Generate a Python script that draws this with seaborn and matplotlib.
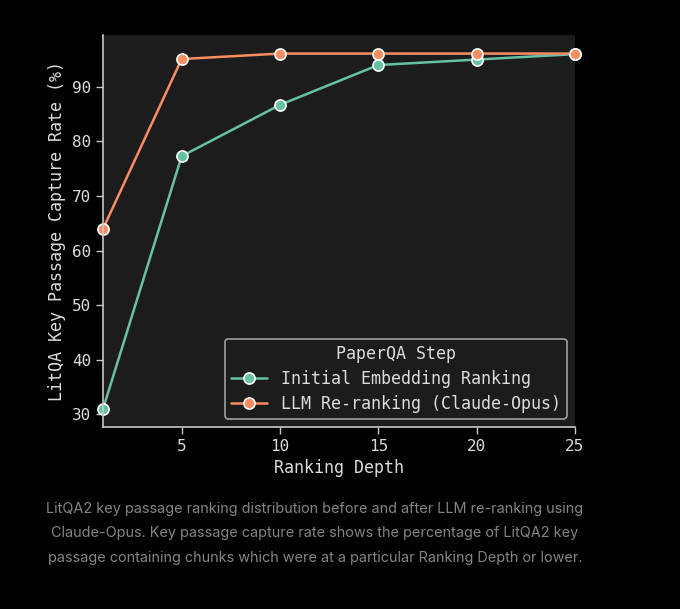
import pandas as pd
import matplotlib
matplotlib.use("Agg")
import matplotlib.pyplot as plt
import seaborn as sns

# ------------------------------------------------------------
# data
# ------------------------------------------------------------
depth = [1, 5, 10, 15, 20, 25]
initial_rate = [31.0, 77.3, 86.7, 94.0, 95.0, 96.0]
rerank_rate = [64.0, 95.1, 96.1, 96.1, 96.1, 96.1]
steps = ["Initial Embedding Ranking", "LLM Re-ranking (Claude-Opus)"]
x_ticks = [5, 10, 15, 20, 25]
y_ticks = [30, 40, 50, 60, 70, 80, 90]

caption = ("LitQA2 key passage ranking distribution before and after LLM re-ranking using\n"
           "Claude-Opus. Key passage capture rate shows the percentage of LitQA2 key\n"
           "passage containing chunks which were at a particular Ranking Depth or lower.")

df = pd.DataFrame({
    "Ranking Depth": depth * 2,
    "Rate": initial_rate + rerank_rate,
    "PaperQA Step": [steps[0]] * len(depth) + [steps[1]] * len(depth),
})

# ------------------------------------------------------------
# style
# ------------------------------------------------------------
fg = "#dcdcdc"
sns.set_theme(style="dark", rc={
    "figure.facecolor": "black",
    "axes.facecolor": "#1c1c1c",
    "axes.edgecolor": "#c8c8c8",
    "axes.labelcolor": fg,
    "xtick.color": "#c8c8c8",
    "ytick.color": "#c8c8c8",
    "text.color": fg,
})
plt.rcParams["font.family"] = ["DejaVu Sans Mono"]

fig = plt.figure(figsize=(6.8, 6.09), dpi=100)
ax = fig.add_axes([0.1515, 0.299, 0.694, 0.6435])

sns.lineplot(
    data=df, x="Ranking Depth", y="Rate", hue="PaperQA Step",
    palette="Set2", marker="o", markersize=8, markeredgecolor="white",
    markeredgewidth=1.2, linewidth=1.8, ax=ax, clip_on=False,
)

ax.set_xlim(1, 25)
ax.set_ylim(27.7, 99.5)
ax.set_xticks(x_ticks)
ax.set_yticks(y_ticks)
ax.tick_params(axis="both", which="major", labelsize=11.5, length=5,
               width=1, bottom=True, left=True, colors="#c8c8c8")
for lbl in ax.get_xticklabels() + ax.get_yticklabels():
    lbl.set_color(fg)
ax.set_xlabel("Ranking Depth", fontsize=12)
ax.set_ylabel("LitQA Key Passage Capture Rate (%)", fontsize=12)
ax.spines["top"].set_visible(False)
ax.spines["right"].set_visible(False)
ax.spines["left"].set_linewidth(1.2)
ax.spines["bottom"].set_linewidth(1.2)

leg = ax.legend(title="PaperQA Step", loc="lower right", fontsize=12,
                title_fontsize=12, frameon=True, fancybox=True,
                handlelength=2.2, borderpad=0.35, labelspacing=0.42)
leg.get_frame().set_facecolor("#1c1c1c")
leg.get_frame().set_edgecolor("#a0a0a0")
leg.get_frame().set_linewidth(1.2)
leg.get_frame().set_alpha(1)
for t in leg.get_texts():
    t.set_color(fg)
leg.get_title().set_color(fg)

fig.text(0.463, 0.124, caption, ha="center", va="center", multialignment="center",
         fontsize=10.4, color="#858585", linespacing=1.98, family=["Inter", "DejaVu Sans"])

fig.savefig("out.png", dpi=100, facecolor="black")
